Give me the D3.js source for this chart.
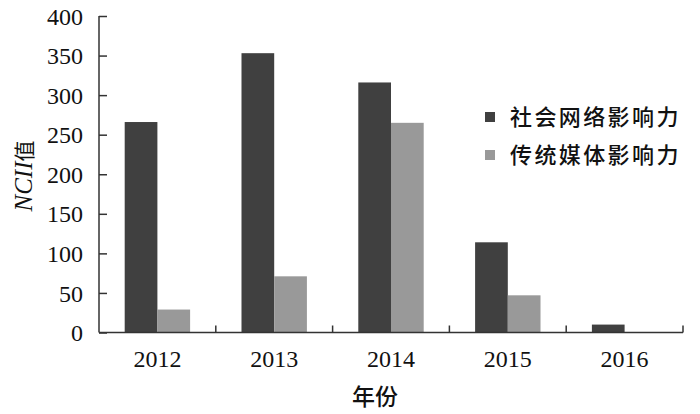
<!DOCTYPE html>
<html><head><meta charset="utf-8">
<script src="https://cdn.jsdelivr.net/npm/d3@7"></script>
<style>body{margin:0;background:#fff;}svg{display:block;}</style>
</head><body>
<svg id="c" width="700" height="414"></svg>
<script>
const years = ["2012","2013","2014","2015","2016"];
const seriesNames = ["社会网络影响力","传统媒体影响力"];
const socialValues = [266, 353, 316, 114, 10];
const mediaValues = [29, 71, 265, 47, 0];
const yTicks = [0,50,100,150,200,250,300,350,400];
const colors = ["#404040","#999999"];

(function(){
const svg = d3.select("#c");
const mL=99, mR=683, mT=16, mB=332.5;
const x = d3.scaleBand().domain(years).range([mL,mR]).paddingInner(0.44).paddingOuter(0.22);
const xs = d3.scaleBand().domain([0,1]).range([0,x.bandwidth()]);
const y = d3.scaleLinear().domain([0,400]).range([mB,mT]);

const data = years.map((yr,i)=>({yr, vals:[socialValues[i], mediaValues[i]]}));
const g = svg.append("g");
data.forEach(d=>{
  d.vals.forEach((v,k)=>{
    if(v<=0) return;
    g.append("rect").attr("x",x(d.yr)+xs(k)).attr("width",xs.bandwidth())
      .attr("y",y(v)).attr("height",y(0)-y(v)).attr("fill",colors[k]);
  });
});

const serif = "'Times New Roman','Liberation Serif',serif";
const ya = svg.append("g").attr("transform",`translate(${mL},0)`)
  .call(d3.axisRight(y).tickValues(yTicks).tickSize(8).tickFormat(d3.format("d")));
ya.select(".domain").attr("stroke","#333").attr("stroke-width",1.5).attr("d",`M0,${mT}V${mB}`);
ya.selectAll(".tick line").attr("stroke","#333").attr("stroke-width",1.5);
ya.selectAll(".tick text").attr("x",-16).attr("text-anchor","end").attr("dy","0.34em")
  .style("font-family",serif).style("font-size","24px").attr("fill","#111");

const bounds = years.map(yr=>x(yr)-x.step()*x.paddingInner()/2).concat([mR]);
svg.append("line").attr("x1",mL).attr("x2",mR).attr("y1",mB).attr("y2",mB)
  .attr("stroke","#333").attr("stroke-width",1.5);
svg.selectAll(".xt").data(bounds.slice(1)).enter().append("line")
  .attr("x1",d=>d).attr("x2",d=>d).attr("y1",mB).attr("y2",mB-7)
  .attr("stroke","#333").attr("stroke-width",1.5);
svg.selectAll(".xl").data(years).enter().append("text")
  .attr("x",d=>x(d)+x.bandwidth()/2).attr("y",367).attr("text-anchor","middle")
  .style("font-family",serif).style("font-size","24px").attr("fill","#111").text(d=>d);

svg.append("text").attr("x",375).attr("y",405).attr("text-anchor","middle")
  .style("font-family","'Noto Sans CJK SC',sans-serif").style("font-size","23px").style("font-weight","500")
  .attr("fill","#111").text("年份");
const yt = svg.append("text").attr("transform","translate(32,176) rotate(-90)").attr("text-anchor","middle").attr("fill","#111");
yt.append("tspan").style("font-family",serif).style("font-style","italic").style("font-size","25px").text("NCII");
yt.append("tspan").style("font-family","'Noto Sans CJK SC',sans-serif").style("font-size","21px").text("值");

const lg = svg.append("g");
seriesNames.forEach((n,i)=>{
  const cy = 117 + i*38;
  lg.append("rect").attr("x",485).attr("y",cy-5).attr("width",10).attr("height",10).attr("fill",colors[i]);
  lg.append("text").attr("x",510).attr("y",cy).attr("dy","0.36em")
    .style("font-family","'Noto Sans CJK SC',sans-serif").style("font-size","22px").style("font-weight","500").style("letter-spacing","2.4px")
    .attr("fill","#111").text(n);
});
})();
</script>
</body></html>
